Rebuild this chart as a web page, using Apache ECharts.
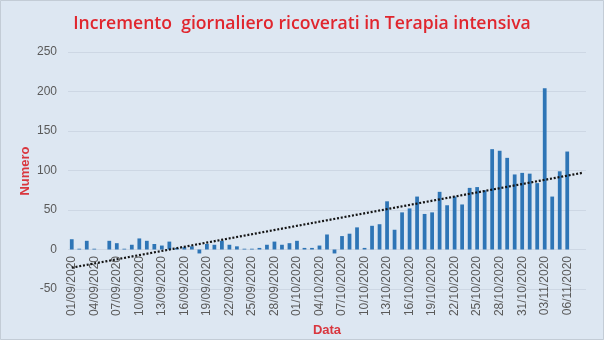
<!DOCTYPE html>
<html>
<head>
<meta charset="utf-8">
<script src="https://cdn.jsdelivr.net/npm/echarts@6/dist/echarts.min.js"></script>
<style>
  html, body { margin: 0; padding: 0; background: #dde7f2; }
  #chart { width: 604px; height: 340px; }
</style>
</head>
<body>
<div id="chart"></div>
<script>
// Daily change in ICU admissions, 01/09/2020 – 06/11/2020
const startDay = new Date(2020, 8, 1);
const dayCount = 69; // axis runs two days past the last value
const dates = [];
for (let i = 0; i < dayCount; i++) {
  const d = new Date(startDay.getFullYear(), startDay.getMonth(), startDay.getDate() + i);
  const dd = String(d.getDate()).padStart(2, '0');
  const mm = String(d.getMonth() + 1).padStart(2, '0');
  dates.push(dd + '/' + mm + '/' + d.getFullYear());
}

const septValues = [13, 1, 11, 1, 0, 11, 8, 1, 6, 14, 11, 7, 5, 10, 2, 3, 4, -5, 7, 6,
                    11, 6, 4, 1, 1, 2, 6, 10, 6, 8];
const octValues  = [11, 2, 2, 5, 19, -5, 17, 20, 28, 2, 30, 32, 61, 25, 47, 52, 67, 45, 47, 73,
                    56, 67, 57, 78, 79, 75, 127, 125, 116, 95, 97];
const novValues  = [96, 84, 204, 67, 99, 124];
const dailyIncrease = septValues.concat(octValues, novValues);

// Linear trend: value at the first and at the last day of the axis
const trendEnds = [-23, 97];

const yTicks = { min: -50, max: 250, step: 50 };

const chart = echarts.init(document.getElementById('chart'), null, { renderer: 'canvas' });
chart.setOption({
  backgroundColor: '#dde7f2',
  animation: false,
  textStyle: { fontFamily: 'Liberation Sans' },
  title: {
    text: 'Incremento  giornaliero ricoverati in Terapia intensiva',
    left: 'center',
    top: 10,
    textStyle: { color: '#e0262e', fontSize: 17.6, fontWeight: 600, fontFamily: 'Open Sans' }
  },
  graphic: [
    {
      type: 'rect',
      shape: { x: 0.5, y: 0.5, width: 603, height: 339 },
      style: { fill: 'none', stroke: '#c3ccd6', lineWidth: 1 },
      silent: true
    },
    {
      // vertical title of the value axis
      type: 'text',
      x: 25,
      y: 171,
      rotation: Math.PI / 2,
      style: {
        text: 'Numero',
        fill: '#d9363e',
        font: '600 13px "Liberation Sans"',
        textAlign: 'center',
        textVerticalAlign: 'middle'
      },
      silent: true
    }
  ],
  grid: { left: 68, right: 18, top: 52, bottom: 51, containLabel: false, outerBoundsMode: 'none' },
  xAxis: {
    type: 'category',
    data: dates,
    boundaryGap: true,
    axisLine: { show: false, onZero: false },
    axisTick: { show: false },
    axisLabel: {
      interval: 2,
      rotate: 90,
      color: '#5a5a5a',
      fontSize: 12,
      // labels hang from the zero line, which sits 50 units above the plot floor
      margin: -33
    },
    name: 'Data',
    nameLocation: 'middle',
    nameGap: 33,
    nameTextStyle: { color: '#d9363e', fontSize: 13, fontWeight: 'bold' }
  },
  yAxis: {
    type: 'value',
    min: yTicks.min,
    max: yTicks.max,
    interval: yTicks.step,
    axisLine: { show: false },
    axisTick: { show: false },
    axisLabel: { color: '#5a5a5a', fontSize: 12, margin: 11 },
    splitLine: { lineStyle: { color: '#cdd7e4', width: 1 } }
  },
  series: [
    {
      type: 'bar',
      data: dailyIncrease,
      barWidth: '50%',
      itemStyle: { color: '#2e75b6' }
    },
    {
      type: 'line',
      data: [[dates[0], trendEnds[0]], [dates[dates.length - 1], trendEnds[1]]],
      symbol: 'none',
      lineStyle: { color: '#141414', width: 2.2, type: [2, 1.8] },
      z: 5
    }
  ]
});
</script>
</body>
</html>
